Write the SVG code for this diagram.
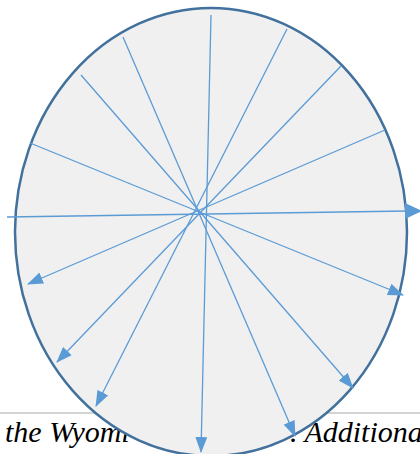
<svg xmlns="http://www.w3.org/2000/svg" width="420" height="454" viewBox="0 0 420 454">
<defs>
<style>
.rule{stroke:#d4d4d4;stroke-width:2}
.txt{font-family:"Liberation Serif","DejaVu Serif","Times New Roman",serif;font-style:italic;font-size:30px;fill:#000}
.oval{fill:#f0f0f0;stroke:#41719c;stroke-width:2.5}
.ray{stroke:#5b9bd5;stroke-width:1.3;fill:none}
.arr{marker-end:url(#tri)}
</style>
<marker id="tri" viewBox="0 0 16 12" markerWidth="16" markerHeight="12" refX="15" refY="6" orient="auto" markerUnits="userSpaceOnUse">
<path d="M0,0 L16,6 L0,12 z" fill="#5b9bd5"/>
</marker>
</defs>
<rect width="420" height="454" fill="#ffffff"/>
<line class="rule" x1="0" y1="413" x2="420" y2="413"/>
<text class="txt" x="5" y="442">the Wyomi</text>
<text class="txt" x="290" y="442">. Additiona</text>
<g id="circle">
<ellipse class="oval" cx="211" cy="232" rx="196" ry="224"/>
</g>
<g id="connectors">
<line class="ray" x1="7" y1="217" x2="408" y2="211"/>
<path d="M405,203 L422,211 L405,219 z" fill="#5b9bd5"/>
<line class="ray arr" x1="211" y1="15" x2="201" y2="452"/>
<line class="ray arr" x1="123" y1="37" x2="295" y2="436"/>
<line class="ray arr" x1="81" y1="75" x2="353" y2="388"/>
<line class="ray arr" x1="30" y1="143" x2="403" y2="295"/>
<line class="ray arr" x1="287" y1="29" x2="96" y2="406"/>
<line class="ray arr" x1="341" y1="66" x2="57" y2="362"/>
<line class="ray arr" x1="385" y1="130" x2="28" y2="284"/>
</g>
</svg>
